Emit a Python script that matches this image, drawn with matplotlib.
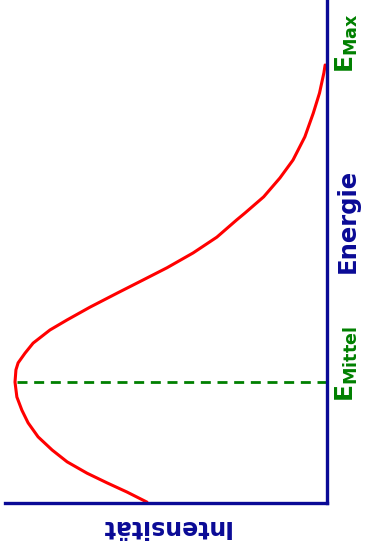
import matplotlib; matplotlib.use("Agg")
import matplotlib.pyplot as plt

plt.rcParams.update({"font.family": "DejaVu Sans", "mathtext.fontset": "dejavusans"})

# beta spectrum: energy (fraction of E_max) vs intensity (fraction of peak)
energy = [0.002, 0.025, 0.046, 0.068, 0.094, 0.121, 0.151, 0.183, 0.212, 0.242,
          0.276, 0.304, 0.320, 0.342, 0.365, 0.395, 0.418, 0.447, 0.479, 0.509,
          0.537, 0.571, 0.607, 0.646, 0.662, 0.699, 0.742, 0.783, 0.836, 0.890,
          0.936, 0.982, 1.000]
intensity = [0.577, 0.641, 0.705, 0.769, 0.833, 0.881, 0.926, 0.958, 0.978, 0.994,
             1.000, 0.997, 0.990, 0.968, 0.942, 0.888, 0.833, 0.760, 0.673, 0.590,
             0.513, 0.429, 0.353, 0.290, 0.263, 0.203, 0.151, 0.109, 0.071, 0.044,
             0.024, 0.010, 0.006]
e_mittel = 0.276
e_max = 1.0

BLUE = "#0a0a96"; GREEN = "#008000"
W, H = 365, 546
fig = plt.figure(figsize=(W/100, H/100), dpi=100)
ax = fig.add_axes([5/W, (H-503)/H, 322/W, 503/H])
ax.plot(intensity, energy, color="red", lw=2.2, solid_capstyle="round", solid_joinstyle="round")
ax.plot([0, max(intensity)], [e_mittel, e_mittel], color=GREEN, lw=2, dashes=(3.6, 2.4))
ax.set_xlim(322/312, 0)
ax.set_ylim(0, 503/438)
for s in ("left", "top"): ax.spines[s].set_visible(False)
for s in ("right", "bottom"):
    ax.spines[s].set_color(BLUE); ax.spines[s].set_linewidth(2.4)
ax.set_xticks([]); ax.set_yticks([])

def fx(x): return x/W
def fy(y): return 1 - y/H
fig.text(fx(165), fy(527), "Intensität", rotation=180, ha="center", va="center",
         color=BLUE, fontsize=17, fontweight="bold")
fig.text(fx(348), fy(221), "Energie", rotation=90, ha="center", va="center",
         color=BLUE, fontsize=17.5, fontweight="bold")
fig.text(fx(347), fy(364), r"$\mathbf{E}_{\mathbf{Mittel}}$", rotation=90, ha="center", va="center",
         color=GREEN, fontsize=18)
fig.text(fx(347), fy(43), r"$\mathbf{E}_{\mathbf{Max}}$", rotation=90, ha="center", va="center",
         color=GREEN, fontsize=18)
fig.savefig("out.png", dpi=100)
